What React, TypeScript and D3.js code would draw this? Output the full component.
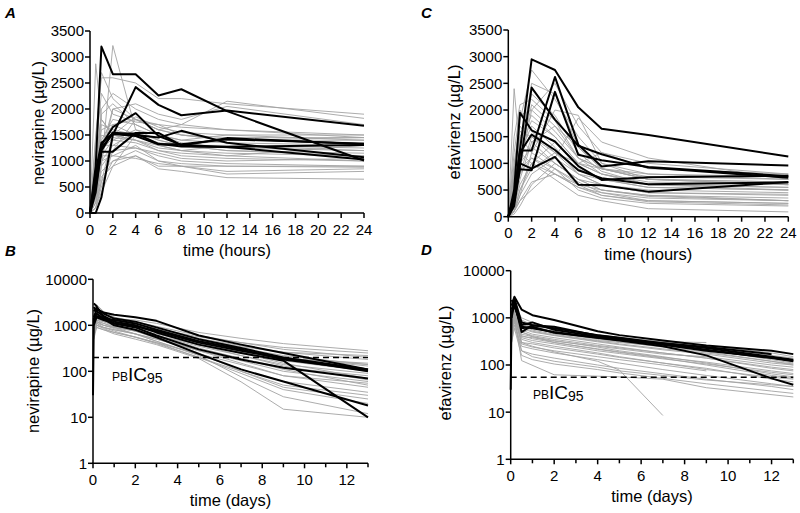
import React from 'react';
import * as d3 from 'd3';

// sampling times
const hoursA = [0, 0.5, 1, 2, 4, 6, 8, 12, 24];
const hoursC = [0, 0.5, 1, 2, 4, 6, 8, 12, 24];
const daysB = [0, 0.04, 0.17, 0.5, 1, 2, 3, 5, 7, 9, 13];
const daysD = [0, 0.04, 0.17, 0.5, 1, 2, 4, 5, 7, 9, 12, 13];

// A: nevirapine, first 24 hours (µg/L)
const nvpHoursBlack = [
  [0, 900, 3200, 2670, 2670, 2260, 2380, 1960, 1010],
  [0, 0, 300, 1500, 2420, 2080, 1880, 1970, 1680],
  [0, 700, 1300, 1650, 1920, 1480, 1310, 1270, 1030],
  [0, 500, 1180, 1180, 1540, 1540, 1300, 1440, 1320],
  [0, 800, 1350, 1530, 1530, 1330, 1280, 1270, 1310],
  [0, 600, 1200, 1550, 1500, 1450, 1580, 1350, 1070],
  [0, 400, 1250, 1520, 1480, 1320, 1320, 1420, 1330],
];
const nvpHoursGrey = [
  [0, 2870, 1800, 1500, 1400, 1200, 1150, 1100, 1000],
  [0, 200, 900, 3220, 1600, 1400, 1300, 1200, 1100],
  [0, 1500, 2600, 2600, 2500, 2200, 2200, 2100, 1900],
  [0, 600, 2000, 2300, 2000, 1800, 1700, 1600, 1500],
  [0, 300, 1000, 2000, 1800, 1600, 1700, 2150, 1820],
  [0, 100, 500, 1200, 1800, 1700, 1500, 1400, 1450],
  [0, 400, 1100, 1400, 1600, 1500, 1400, 1500, 1400],
  [0, 800, 1300, 1300, 1250, 1100, 1000, 950, 900],
  [0, 200, 700, 900, 1100, 850, 800, 680, 650],
  [0, 500, 1000, 1100, 1300, 1000, 900, 750, 800],
  [0, 900, 1600, 1700, 1500, 1300, 1200, 1300, 1200],
  [0, 300, 800, 1000, 1200, 1000, 950, 900, 880],
  [0, 1000, 1900, 2100, 1700, 1500, 1400, 1350, 1300],
  [0, 700, 1200, 1450, 1400, 1250, 1200, 1150, 1100],
  [0, 600, 1400, 1800, 1700, 1500, 1350, 1250, 1200],
  [0, 100, 600, 1500, 1850, 1650, 1550, 1500, 1500],
  [0, 400, 900, 1200, 1250, 1150, 1050, 1000, 1050],
  [0, 1200, 2300, 1900, 1750, 1700, 1650, 1600, 1450],
  [0, 500, 1700, 1600, 1500, 1350, 1300, 1200, 1150],
  [0, 200, 600, 1000, 1100, 900, 900, 800, 850],
  [0, 700, 1500, 1400, 1350, 1200, 1100, 1050, 1000],
  [0, 300, 1200, 2000, 2100, 1900, 1800, 2050, 1700],
  [0, 900, 1800, 1500, 1400, 1300, 1300, 1400, 1400],
  [0, 100, 400, 900, 1500, 1300, 1200, 1100, 1300],
  [0, 600, 1000, 1300, 1550, 1400, 1300, 1300, 1250],
  [0, 400, 1300, 1700, 1800, 1600, 1500, 1450, 1450],
  [0, 500, 1100, 1100, 1050, 950, 900, 900, 900],
  [0, 1400, 2700, 2200, 1800, 1600, 1500, 1400, 1350],
];

// C: efavirenz, first 24 hours (µg/L)
const efvHoursBlack = [
  [0, 300, 1250, 2950, 2750, 2050, 1650, 1530, 1130],
  [0, 400, 1240, 1240, 2620, 1350, 940, 1040, 960],
  [0, 200, 950, 2420, 1820, 1330, 1170, 920, 730],
  [0, 300, 890, 870, 2340, 1160, 1060, 930, 760],
  [0, 500, 1950, 1620, 1410, 950, 690, 740, 770],
  [0, 400, 1200, 1540, 1250, 870, 720, 610, 640],
  [0, 300, 1000, 900, 1120, 600, 590, 470, 650],
];
const efvHoursGrey = [
  [0, 2400, 1200, 1000, 800, 600, 500, 400, 300],
  [0, 1500, 2100, 2200, 1800, 1100, 900, 700, 600],
  [0, 800, 1800, 2750, 2200, 1500, 1000, 800, 700],
  [0, 300, 900, 2000, 2500, 1700, 1200, 900, 800],
  [0, 100, 400, 1200, 2000, 1900, 1000, 700, 650],
  [0, 600, 1500, 1900, 1500, 1000, 800, 600, 500],
  [0, 200, 700, 1400, 1700, 1300, 900, 700, 600],
  [0, 900, 1600, 1500, 1100, 800, 600, 500, 450],
  [0, 100, 300, 650, 800, 550, 400, 300, 250],
  [0, 400, 1200, 1700, 1300, 800, 700, 550, 500],
  [0, 50, 200, 600, 1000, 700, 500, 400, 350],
  [0, 1200, 2000, 1600, 1200, 900, 700, 550, 500],
  [0, 500, 1000, 1300, 1000, 700, 600, 450, 400],
  [0, 150, 500, 1000, 1400, 1000, 900, 800, 750],
  [0, 700, 1400, 2300, 1900, 1200, 850, 600, 550],
  [0, 300, 800, 1100, 900, 500, 350, 250, 200],
  [0, 100, 500, 900, 1200, 1000, 800, 650, 600],
  [0, 1000, 1700, 1400, 1000, 700, 500, 380, 300],
  [0, 200, 600, 1000, 700, 400, 300, 150, 90],
  [0, 600, 1300, 1800, 1500, 1000, 1200, 1000, 800],
  [0, 400, 1100, 2100, 1700, 1100, 800, 600, 550],
  [0, 800, 1500, 1200, 900, 650, 450, 300, 250],
  [0, 100, 400, 800, 1100, 1850, 1400, 1100, 700],
  [0, 300, 1200, 2500, 2300, 1300, 900, 700, 650],
  [0, 500, 900, 1100, 800, 550, 450, 350, 300],
  [0, 200, 800, 1500, 1200, 800, 600, 450, 420],
  [0, 900, 1900, 2000, 1600, 1100, 900, 750, 700],
  [0, 100, 300, 500, 900, 600, 400, 280, 220],
];

// B: nevirapine over days (µg/L, log)
const nvpDaysBlack = [
  [null, 1500, 2200, 1900, 1700, 1500, 1250, 600, 380, 250, 110],
  [null, 1200, 1600, 1400, 1300, 1100, 800, 450, 300, 180, 105],
  [null, 2500, 2000, 1600, 1200, 1000, 700, 380, 250, 170, 10],
  [null, 1000, 1500, 1300, 1100, 900, 600, 300, 180, 120, 70],
  [30, 1400, 1800, 1400, 1000, 800, 550, 240, 110, 60, 18],
  [null, 2000, 2400, 1800, 1400, 1200, 900, 500, 320, 200, 110],
  [null, 3000, 2600, 1500, 1100, 950, 750, 420, 280, 190, 100],
];
const nvpDaysGrey = [
  [null, 1000, 1700, 1500, 1400, 1300, 1100, 700, 520, 400, 280],
  [null, 800, 1400, 1300, 1200, 1000, 850, 560, 420, 330, 250],
  [null, 1500, 2000, 1700, 1500, 1200, 950, 600, 420, 300, 200],
  [null, 1200, 1800, 1500, 1300, 1050, 850, 520, 360, 260, 180],
  [null, 700, 1100, 1000, 900, 750, 600, 380, 260, 190, 150],
  [null, 1600, 2300, 1800, 1400, 1100, 850, 480, 320, 220, 140],
  [null, 1000, 1500, 1300, 1100, 900, 750, 450, 300, 200, 130],
  [null, 1100, 1500, 1300, 1100, 900, 700, 420, 280, 180, 110],
  [null, 800, 1200, 1100, 950, 800, 650, 400, 270, 170, 100],
  [null, 900, 1300, 1200, 1000, 800, 600, 350, 220, 140, 90],
  [null, 600, 1000, 900, 800, 650, 500, 300, 190, 120, 80],
  [null, 1100, 1600, 1400, 1200, 950, 750, 420, 250, 150, 70],
  [null, 1300, 1700, 1400, 1200, 950, 700, 380, 220, 130, 65],
  [null, 650, 1000, 900, 800, 650, 500, 280, 170, 100, 60],
  [null, 500, 900, 800, 700, 550, 420, 240, 140, 80, 55],
  [null, 900, 1200, 1000, 900, 750, 600, 320, 190, 110, 50],
  [null, 1000, 1400, 1200, 1000, 750, 550, 280, 150, 80, 45],
  [null, 800, 1200, 1000, 850, 650, 450, 230, 110, 60, 35],
  [null, 700, 1000, 850, 700, 560, 420, 200, 100, 50, 30],
  [null, 1200, 1600, 1300, 1000, 750, 520, 250, 100, 45, 25],
  [null, 700, 1100, 900, 750, 550, 400, 200, 90, 40, 20],
  [null, 900, 1300, 1100, 900, 650, 450, 220, 76, 28, 12],
  [null, 600, 900, 800, 650, 500, 380, 190, 59, 15, 10],
  [null, 2000, 2800, 2000, 1500, 1100, 850, 480, 300, 190, 140],
  [null, 1500, 2200, 1800, 1400, 1100, 850, 500, 340, 260, 220],
];

// D: efavirenz over days (µg/L, log)
const efvDaysBlack = [
  [null, 1800, 2800, 1500, 1140, 900, 520, 430, 330, 260, 200, 170],
  [null, 1200, 2600, 800, 700, 600, 430, 380, 290, 230, 150, 130],
  [null, 1500, 2200, 500, 700, 650, 420, 370, 280, 210, 140, 120],
  [null, 1000, 2000, 650, 600, 500, 380, 330, 250, 160, 52, 38],
  [30, 1300, 1800, 700, 800, 560, 400, 350, 270, 200, 145, 125],
  [null, 2400, 1900, 600, 650, 480, 380, 340, 290, 240, 170, null],
];
const efvDaysGrey = [
  [null, 900, 1500, 700, 550, 450, 330, 300, 250, 210, 130, 110],
  [null, 600, 1200, 400, 380, 320, 250, 220, 170, 150, 100, 90],
  [null, 700, 1000, 124, null, 62, null, 56, 50, 33, null, 21],
  [null, 800, 1100, 300, 250, 190, 120, 78, 8.5, null, null, null],
  [null, 1100, 1600, 800, 600, 500, 380, 350, 310, 300, null, null],
  [null, 500, 900, 350, 300, 250, 180, 150, 110, 80, 55, 50],
  [null, 700, 1300, 550, 450, 380, 280, 240, 180, 140, 90, 80],
  [null, 1000, 1700, 900, 700, 560, 400, 360, 290, 240, 160, 140],
  [null, 400, 800, 250, 220, 180, 130, 110, 80, 60, 40, 35],
  [null, 600, 1100, 450, 400, 330, 240, 200, 150, 110, 65, 56],
  [null, 900, 1400, 600, 500, 420, 310, 270, 210, 170, 110, 100],
  [null, 300, 700, 200, 170, 140, 100, 85, 65, 50, 35, 30],
  [null, 800, 1200, 500, 420, 350, 260, 230, 180, 140, 85, 75],
  [null, 1200, 1800, 1000, 800, 600, 440, 390, 310, 260, 180, 150],
  [null, 500, 1000, 300, 280, 230, 170, 145, 110, 85, 50, 44],
  [null, 700, 1400, 650, 520, 430, 320, 280, 220, 180, 120, 105],
  [null, 400, 900, 200, 150, 120, 90, 75, 60, 48, 38, 35],
  [null, 1000, 1500, 750, 600, 480, 350, 310, 240, 190, 120, 100],
  [null, 600, 1000, 380, 330, 280, 200, 175, 135, 105, 70, 62],
  [null, 800, 1300, 500, 400, 300, 220, 190, 145, 115, 75, 66],
  [null, 900, 1600, 850, 650, 520, 370, 330, 260, 210, 140, 120],
  [null, 500, 1100, 280, 240, 200, 150, 130, 100, 75, null, null],
  [null, 700, 1200, 420, 360, 300, 215, 185, 140, 100, 60, 52],
  [null, 300, 600, 160, 130, 105, 80, 68, 52, 40, 28, 25],
];

// axis ticks and reference levels
const hourTicks = [0, 2, 4, 6, 8, 10, 12, 14, 16, 18, 20, 22, 24];
const concTicks = [0, 500, 1000, 1500, 2000, 2500, 3000, 3500];
const dayTicks = [0, 1, 2, 3, 4, 5, 6, 7, 8, 9, 10, 11, 12, 13];
const dayLabels = [0, 2, 4, 6, 8, 10, 12];
const logTicks = [1, 10, 100, 1000, 10000];
const nvpIC95 = 200;
const efvIC95 = 55;

const FONT = "'Liberation Sans', Arial, Helvetica, sans-serif";

type Series = (number | null)[];

interface PanelProps {
  times: number[];
  black: Series[];
  grey: Series[];
  log: boolean;
  xMax: number;
  xr: [number, number];
  yr: [number, number];
  xTicks: number[];
  xLabels: number[];
  yLabel: string;
  xLabel: string;
  letter: string;
  letterXY: [number, number];
  yTitleXY: [number, number];
  ic95?: number;
  icXY?: [number, number];
}

function Panel(p: PanelProps) {
  const x = d3.scaleLinear().domain([0, p.xMax]).range(p.xr);
  const y = p.log
    ? d3.scaleLog().domain([1, 10000]).range(p.yr)
    : d3.scaleLinear().domain([0, 3500]).range(p.yr);
  const yTicks = p.log ? logTicks : concTicks;
  const line = d3
    .line<[number, number]>()
    .x((d) => x(d[0]))
    .y((d) => y(d[1]));
  const path = (s: Series) =>
    line(
      p.times
        .map((t, i) => [t, s[i]] as [number, number | null])
        .filter((d) => d[1] != null) as [number, number][]
    ) || '';
  const x0 = p.xr[0];
  const yb = p.yr[0];
  const midX = (p.xr[0] + p.xr[1]) / 2;
  return (
    <g fontFamily={FONT}>
      <g fill="none" stroke="#a3a3a3" strokeWidth={0.9}>
        {p.grey.map((s, i) => (
          <path key={i} d={path(s)} />
        ))}
      </g>
      {p.ic95 != null && (
        <line
          x1={x(0)}
          x2={x(p.xMax)}
          y1={y(p.ic95)}
          y2={y(p.ic95)}
          stroke="#000"
          strokeWidth={1.6}
          strokeDasharray="6,4"
        />
      )}
      <g fill="none" stroke="#000" strokeWidth={2} strokeLinejoin="round">
        {p.black.map((s, i) => (
          <path key={i} d={path(s)} />
        ))}
      </g>
      {/* y axis */}
      <line x1={x0} x2={x0} y1={p.yr[1]} y2={yb + 0.75} stroke="#000" strokeWidth={1.5} />
      {yTicks.map((t) => (
        <g key={t}>
          <line x1={x0 - 5} x2={x0} y1={y(t)} y2={y(t)} stroke="#000" strokeWidth={1.5} />
          <text x={x0 - 6} y={y(t)} dy="0.36em" textAnchor="end" fontSize={15}>
            {t}
          </text>
        </g>
      ))}
      {/* x axis */}
      <line x1={x0 - 0.75} x2={p.xr[1]} y1={yb} y2={yb} stroke="#000" strokeWidth={1.5} />
      {p.xTicks.map((t) => (
        <line
          key={t}
          x1={x(t)}
          x2={x(t)}
          y1={yb}
          y2={yb + (p.xLabels.includes(t) ? 5 : 4)}
          stroke="#000"
          strokeWidth={1.5}
        />
      ))}
      {p.xLabels.map((t) => (
        <text key={t} x={x(t)} y={yb + 21.5} textAnchor="middle" fontSize={15}>
          {t}
        </text>
      ))}
      <text x={midX} y={yb + 43} textAnchor="middle" fontSize={16.5}>
        {p.xLabel}
      </text>
      <text
        transform={`translate(${p.yTitleXY[0]},${p.yTitleXY[1]}) rotate(-90)`}
        dy="0.35em"
        textAnchor="middle"
        fontSize={16.5}
      >
        {p.yLabel}
      </text>
      <text
        x={p.letterXY[0]}
        y={p.letterXY[1]}
        fontSize={15}
        fontWeight="bold"
        fontStyle="italic"
      >
        {p.letter}
      </text>
      {p.icXY && (
        <text x={p.icXY[0]} y={p.icXY[1]}>
          <tspan fontSize={12}>PB</tspan>
          <tspan fontSize={19}>IC</tspan>
          <tspan fontSize={14} dy={2.5}>
            95
          </tspan>
        </text>
      )}
    </g>
  );
}

export default function App() {
  return (
    <svg
      width={800}
      height={513}
      style={{ position: 'absolute', left: 0, top: 0, background: '#fff' }}
    >
      <Panel
        times={hoursA}
        black={nvpHoursBlack}
        grey={nvpHoursGrey}
        log={false}
        xMax={24}
        xr={[90, 364]}
        yr={[213, 31]}
        xTicks={hourTicks}
        xLabels={hourTicks}
        yLabel="nevirapine (µg/L)"
        xLabel="time (hours)"
        letter="A"
        letterXY={[5, 17.5]}
        yTitleXY={[38, 123]}
      />
      <Panel
        times={hoursC}
        black={efvHoursBlack}
        grey={efvHoursGrey}
        log={false}
        xMax={24}
        xr={[508.3, 788.3]}
        yr={[216.7, 30]}
        xTicks={hourTicks}
        xLabels={hourTicks}
        yLabel="efavirenz (µg/L)"
        xLabel="time (hours)"
        letter="C"
        letterXY={[421, 18]}
        yTitleXY={[454, 122]}
      />
      <Panel
        times={daysB}
        black={nvpDaysBlack}
        grey={nvpDaysGrey}
        log={true}
        xMax={13}
        xr={[93, 368]}
        yr={[463.3, 279.3]}
        xTicks={dayTicks}
        xLabels={dayLabels}
        yLabel="nevirapine (µg/L)"
        xLabel="time (days)"
        letter="B"
        letterXY={[5, 256]}
        yTitleXY={[33, 371]}
        ic95={nvpIC95}
        icXY={[112, 380.5]}
      />
      <Panel
        times={daysD}
        black={efvDaysBlack}
        grey={efvDaysGrey}
        log={true}
        xMax={13}
        xr={[510.7, 793.3]}
        yr={[459.3, 270.7]}
        xTicks={dayTicks}
        xLabels={dayLabels}
        yLabel="efavirenz (µg/L)"
        xLabel="time (days)"
        letter="D"
        letterXY={[421, 255]}
        yTitleXY={[445, 363]}
        ic95={efvIC95}
        icXY={[533, 398.5]}
      />
    </svg>
  );
}
